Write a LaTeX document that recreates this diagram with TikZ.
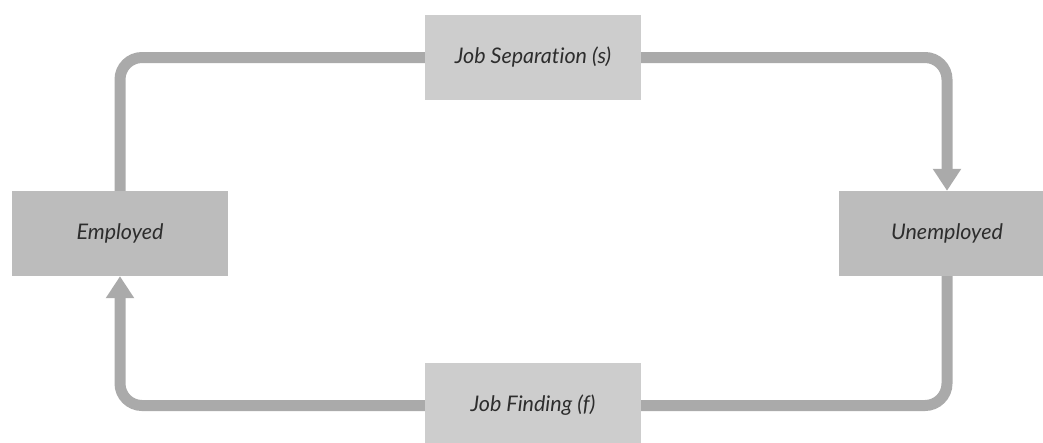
\documentclass[tikz,border=0pt]{standalone}
\usepackage{fontspec}
\setmainfont{Lato}[Ligatures={NoCommon,NoDiscretionary}]
\usepackage{tikz}
\usetikzlibrary{arrows.meta}
\definecolor{boxlight}{RGB}{205,205,205}
\definecolor{boxdark}{RGB}{188,188,188}
\definecolor{flowgrey}{RGB}{170,170,170}
\definecolor{textgrey}{RGB}{45,45,45}

\begin{document}
\begin{tikzpicture}[x=1pt, y=-1pt, >={Triangle[width=27pt,length=22pt]},
    font=\fontsize{21.5}{25}\selectfont\itshape,
    state/.style={fill=boxdark, text=textgrey, minimum width=216pt, minimum height=85pt, inner sep=0pt},
    rate/.style={fill=boxlight, text=textgrey, minimum width=216pt, minimum height=85pt, inner sep=0pt},
    flow/.style={draw=flowgrey, line width=11pt, rounded corners=22pt}]
      \useasboundingbox (0,0) rectangle (1043,442);
      % States
      \node[state] (emp) at (120,233.5) {Employed};
      \node[state] (unemp) at (947,233.5) {Unemployed};
      % Flows between them
      \node[rate] (sep) at (533,57.5) {Job Separation (s)};
      \node[rate] (find) at (533,405.5) {Job Finding (f)};
      % Connectors
      \draw[flow] (emp.north) |- (sep.west);
      \draw[flow, ->] (sep.east) -| (unemp.north);
      \draw[flow] (unemp.south) |- (find.east);
      \draw[flow, ->] (find.west) -| (emp.south);
    \end{tikzpicture}
\end{document}
